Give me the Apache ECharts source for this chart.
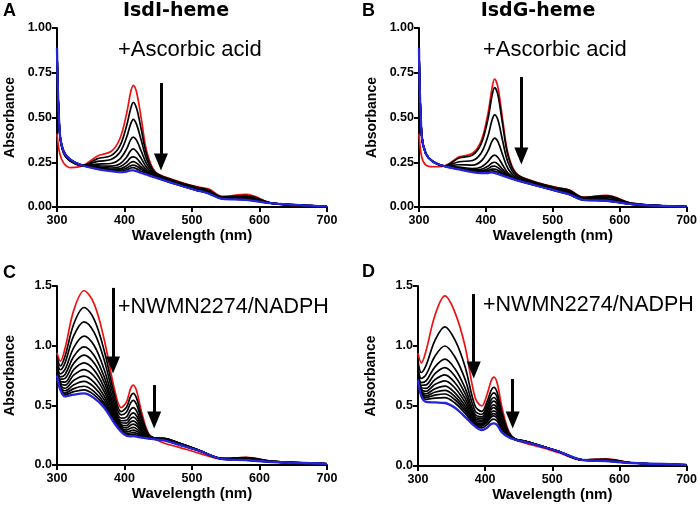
<!DOCTYPE html>
<html>
<head>
<meta charset="utf-8">
<script src="https://cdn.jsdelivr.net/npm/echarts@6/dist/echarts.min.js"></script>
<style>
  html, body { margin: 0; padding: 0; background: #fff; }
  #main { width: 700px; height: 510px; }
</style>
</head>
<body>
<div id="main"></div>
<script>
// wavelength grids (nm)
var wlAB = [300,304,310,320,338,360,380,393,403,409,413,418,425,433,445,470,505,525,545,580,620,700];
var wlCD = [300,305,312,325,340,355,370,385,395,403,409,413,418,425,435,445,460,480,510,545,580,620,700];

// A: IsdI-heme + ascorbic acid
var aRed  = [0.41,0.30,0.245,0.22,0.23,0.285,0.31,0.38,0.52,0.64,0.68,0.64,0.49,0.31,0.20,0.155,0.115,0.10,0.06,0.07,0.02,0.0];
var aBlue = [0.89,0.42,0.31,0.265,0.232,0.212,0.20,0.195,0.198,0.205,0.205,0.20,0.19,0.18,0.165,0.135,0.095,0.075,0.045,0.04,0.02,0.003];
var aBlack = [
  [0.87,0.41,0.30,0.255,0.232,0.27,0.287,0.34,0.452,0.548,0.585,0.55,0.43,0.29,0.195,0.152,0.112,0.094,0.056,0.063,0.02,0.001],
  [0.88,0.41,0.30,0.257,0.232,0.255,0.265,0.304,0.388,0.462,0.49,0.46,0.37,0.265,0.19,0.148,0.108,0.09,0.054,0.058,0.02,0.002],
  [0.88,0.415,0.305,0.258,0.232,0.24,0.243,0.268,0.323,0.375,0.39,0.372,0.31,0.24,0.185,0.145,0.104,0.085,0.051,0.052,0.02,0.002],
  [0.885,0.415,0.305,0.26,0.232,0.23,0.228,0.24,0.278,0.314,0.325,0.31,0.27,0.22,0.178,0.14,0.10,0.081,0.049,0.048,0.02,0.002],
  [0.885,0.42,0.308,0.262,0.232,0.224,0.218,0.225,0.25,0.275,0.28,0.272,0.24,0.205,0.174,0.138,0.098,0.079,0.048,0.045,0.02,0.003],
  [0.89,0.42,0.308,0.263,0.232,0.22,0.211,0.213,0.23,0.248,0.253,0.245,0.222,0.196,0.17,0.137,0.097,0.078,0.047,0.043,0.02,0.003],
  [0.89,0.42,0.31,0.264,0.232,0.217,0.207,0.206,0.217,0.231,0.234,0.228,0.21,0.19,0.168,0.136,0.096,0.077,0.046,0.042,0.02,0.003],
  [0.89,0.42,0.31,0.265,0.232,0.214,0.203,0.20,0.207,0.218,0.22,0.213,0.199,0.185,0.166,0.135,0.096,0.076,0.046,0.041,0.02,0.003]
];

// B: IsdG-heme + ascorbic acid
var bRed  = [0.41,0.28,0.235,0.225,0.23,0.28,0.30,0.37,0.52,0.66,0.715,0.67,0.49,0.30,0.19,0.145,0.11,0.095,0.055,0.065,0.02,0.0];
var bBlue = [0.89,0.40,0.30,0.255,0.228,0.21,0.195,0.19,0.19,0.193,0.19,0.185,0.175,0.165,0.15,0.125,0.09,0.07,0.04,0.035,0.015,0.002];
var bBlack = [
  [0.87,0.40,0.30,0.257,0.23,0.274,0.29,0.354,0.49,0.618,0.667,0.626,0.462,0.288,0.186,0.143,0.108,0.093,0.054,0.062,0.02,0.001],
  [0.88,0.40,0.30,0.257,0.229,0.253,0.26,0.302,0.395,0.483,0.515,0.486,0.37,0.25,0.175,0.137,0.102,0.085,0.05,0.054,0.018,0.001],
  [0.885,0.40,0.30,0.256,0.229,0.236,0.234,0.257,0.312,0.366,0.385,0.365,0.292,0.215,0.165,0.132,0.097,0.079,0.046,0.046,0.017,0.002],
  [0.885,0.40,0.30,0.256,0.228,0.223,0.215,0.224,0.253,0.282,0.29,0.277,0.235,0.19,0.158,0.129,0.094,0.075,0.043,0.041,0.016,0.002],
  [0.89,0.40,0.30,0.255,0.228,0.218,0.207,0.21,0.228,0.246,0.25,0.24,0.21,0.18,0.155,0.127,0.092,0.073,0.042,0.038,0.016,0.002],
  [0.89,0.40,0.30,0.255,0.228,0.215,0.203,0.203,0.214,0.227,0.228,0.22,0.198,0.175,0.153,0.126,0.091,0.072,0.041,0.037,0.015,0.002],
  [0.89,0.40,0.30,0.255,0.228,0.213,0.199,0.198,0.204,0.212,0.212,0.205,0.188,0.171,0.152,0.126,0.091,0.071,0.041,0.036,0.015,0.002],
  [0.89,0.40,0.30,0.255,0.228,0.211,0.197,0.194,0.197,0.202,0.20,0.195,0.182,0.168,0.151,0.125,0.09,0.07,0.04,0.035,0.015,0.002]
];

// C: IsdI-heme + NWMN2274/NADPH
var cRed  = [0.94,0.87,0.98,1.30,1.46,1.35,1.05,0.64,0.48,0.53,0.64,0.67,0.62,0.45,0.27,0.22,0.18,0.15,0.10,0.05,0.065,0.03,0.01];
var cBlue = [0.75,0.63,0.575,0.59,0.60,0.56,0.48,0.35,0.28,0.245,0.24,0.243,0.238,0.23,0.222,0.215,0.205,0.17,0.12,0.05,0.04,0.025,0.01];
var cBlack = [
  [0.909,0.83,0.914,1.184,1.32,1.221,0.957,0.593,0.447,0.484,0.575,0.60,0.558,0.414,0.262,0.225,0.222,0.185,0.125,0.055,0.062,0.03,0.01],
  [0.883,0.798,0.858,1.086,1.20,1.111,0.878,0.552,0.42,0.444,0.519,0.541,0.505,0.384,0.256,0.225,0.222,0.185,0.125,0.054,0.058,0.03,0.01],
  [0.856,0.764,0.801,0.986,1.08,1.001,0.798,0.512,0.392,0.404,0.463,0.481,0.451,0.353,0.249,0.224,0.221,0.184,0.124,0.054,0.055,0.029,0.01],
  [0.836,0.739,0.758,0.912,0.99,0.918,0.738,0.481,0.371,0.374,0.421,0.436,0.411,0.33,0.244,0.223,0.221,0.184,0.124,0.053,0.052,0.028,0.01],
  [0.821,0.719,0.726,0.854,0.92,0.854,0.692,0.458,0.354,0.351,0.389,0.402,0.38,0.312,0.24,0.222,0.22,0.183,0.123,0.053,0.05,0.028,0.01],
  [0.806,0.701,0.695,0.801,0.855,0.795,0.649,0.436,0.339,0.33,0.359,0.37,0.351,0.295,0.236,0.221,0.219,0.182,0.123,0.052,0.048,0.027,0.01],
  [0.794,0.686,0.669,0.755,0.80,0.744,0.613,0.418,0.327,0.311,0.333,0.342,0.327,0.281,0.233,0.22,0.218,0.181,0.122,0.052,0.046,0.027,0.01],
  [0.782,0.671,0.643,0.71,0.745,0.693,0.576,0.399,0.314,0.293,0.308,0.315,0.303,0.267,0.23,0.219,0.216,0.18,0.122,0.051,0.045,0.026,0.01],
  [0.772,0.658,0.622,0.672,0.70,0.652,0.546,0.384,0.303,0.278,0.286,0.293,0.282,0.256,0.228,0.218,0.214,0.178,0.122,0.051,0.043,0.026,0.01],
  [0.763,0.647,0.603,0.64,0.66,0.615,0.52,0.37,0.294,0.265,0.268,0.273,0.265,0.245,0.225,0.217,0.21,0.175,0.121,0.051,0.042,0.025,0.01],
  [0.757,0.638,0.589,0.615,0.63,0.588,0.50,0.36,0.287,0.255,0.254,0.258,0.251,0.238,0.224,0.216,0.208,0.172,0.12,0.05,0.041,0.025,0.01]
];

// D: IsdG-heme + NWMN2274/NADPH
var dRed  = [0.94,0.86,0.96,1.25,1.417,1.28,1.0,0.57,0.50,0.60,0.71,0.74,0.69,0.49,0.29,0.22,0.19,0.16,0.11,0.05,0.06,0.025,0.01];
var dBlue = [0.72,0.58,0.535,0.53,0.525,0.485,0.41,0.33,0.30,0.32,0.35,0.355,0.34,0.28,0.24,0.22,0.20,0.17,0.12,0.05,0.04,0.025,0.01];
var dBlack = [
  [0.877,0.779,0.838,1.043,1.16,1.051,0.83,0.50,0.455,0.538,0.631,0.655,0.613,0.444,0.28,0.225,0.205,0.172,0.12,0.052,0.055,0.025,0.01],
  [0.837,0.729,0.761,0.913,1.0,0.908,0.724,0.46,0.43,0.505,0.588,0.609,0.571,0.419,0.273,0.224,0.206,0.173,0.12,0.052,0.053,0.025,0.01],
  [0.81,0.695,0.709,0.824,0.89,0.81,0.651,0.43,0.41,0.477,0.552,0.571,0.536,0.398,0.268,0.223,0.206,0.173,0.12,0.051,0.051,0.025,0.01],
  [0.793,0.673,0.676,0.768,0.82,0.748,0.605,0.41,0.395,0.454,0.523,0.54,0.508,0.381,0.264,0.222,0.206,0.173,0.12,0.051,0.049,0.025,0.01],
  [0.778,0.654,0.647,0.719,0.76,0.694,0.565,0.395,0.38,0.432,0.494,0.509,0.48,0.364,0.26,0.221,0.205,0.172,0.12,0.051,0.047,0.025,0.01],
  [0.766,0.638,0.623,0.679,0.71,0.65,0.532,0.38,0.368,0.415,0.472,0.486,0.459,0.351,0.257,0.221,0.205,0.172,0.12,0.051,0.046,0.025,0.01],
  [0.755,0.624,0.602,0.643,0.665,0.61,0.503,0.37,0.354,0.396,0.447,0.459,0.435,0.337,0.254,0.22,0.204,0.171,0.12,0.05,0.045,0.025,0.01],
  [0.746,0.613,0.585,0.615,0.63,0.579,0.48,0.36,0.342,0.379,0.426,0.436,0.414,0.324,0.25,0.22,0.203,0.171,0.12,0.05,0.044,0.025,0.01],
  [0.738,0.604,0.571,0.59,0.60,0.552,0.46,0.35,0.332,0.365,0.408,0.417,0.396,0.314,0.248,0.22,0.202,0.171,0.12,0.05,0.043,0.025,0.01],
  [0.731,0.594,0.556,0.566,0.57,0.525,0.44,0.34,0.318,0.345,0.382,0.39,0.372,0.299,0.245,0.22,0.201,0.17,0.12,0.05,0.042,0.025,0.01]
];

// arrows: [wavelength, from absorbance, to absorbance]
var arrowsA = [[454, 0.693, 0.251]];
var arrowsB = [[453, 0.726, 0.285]];
var arrowsC = [[383, 1.484, 0.838], [444, 0.67, 0.377]];
var arrowsD = [[383, 1.433, 0.80], [441, 0.725, 0.383]];

var yMaxAB = 1, yStepAB = 0.25;
var yMaxCD = 1.5, yStepCD = 0.5;

var FONT = 'Liberation Sans';
var RED = '#ee1111', BLUE = '#2424d8';

var panels = [
  { wl: wlAB, red: aRed, blue: aBlue, black: aBlack, arrows: arrowsA, max: yMaxAB, step: yStepAB, dec: 2,
    grid: { left: 57, top: 28, width: 270, height: 179 } },
  { wl: wlAB, red: bRed, blue: bBlue, black: bBlack, arrows: arrowsB, max: yMaxAB, step: yStepAB, dec: 2,
    grid: { left: 419, top: 28, width: 269, height: 179 } },
  { wl: wlCD, red: cRed, blue: cBlue, black: cBlack, arrows: arrowsC, max: yMaxCD, step: yStepCD, dec: 1,
    grid: { left: 57, top: 286, width: 270, height: 179 } },
  { wl: wlCD, red: dRed, blue: dBlue, black: dBlack, arrows: arrowsD, max: yMaxCD, step: yStepCD, dec: 1,
    grid: { left: 418, top: 286, width: 269, height: 180 } }
];

function pairs(wl, vals) {
  return wl.map(function (w, i) { return [w, vals[i]]; });
}

var grids = [], xAxes = [], yAxes = [], series = [];
var axisLine = { lineStyle: { color: '#000', width: 2 } };
var axisTick = { length: 5, lineStyle: { color: '#000', width: 2 } };

panels.forEach(function (p, k) {
  grids.push(p.grid);
  xAxes.push({
    gridIndex: k, type: 'value', min: 300, max: 700, interval: 100,
    name: 'Wavelength (nm)', nameLocation: 'middle', nameGap: 20,
    nameTextStyle: { fontFamily: FONT, fontWeight: 'bold', fontSize: 15, color: '#000' },
    axisLine: axisLine, axisTick: axisTick, splitLine: { show: false },
    axisLabel: { fontFamily: FONT, fontWeight: 'bold', fontSize: 12.5, color: '#000', margin: 7 }
  });
  yAxes.push({
    gridIndex: k, type: 'value', min: 0, max: p.max, interval: p.step,
    name: 'Absorbance', nameLocation: 'middle', nameGap: 40,
    nameTextStyle: { fontFamily: FONT, fontWeight: 'bold', fontSize: 14, color: '#000' },
    axisLine: { show: true, lineStyle: { color: '#000', width: 2 } },
    axisTick: { show: true, length: 5, lineStyle: { color: '#000', width: 2 } },
    splitLine: { show: false },
    axisLabel: { fontFamily: FONT, fontWeight: 'bold', fontSize: 12.5, color: '#000', margin: 5,
      formatter: function (v) { return v.toFixed(p.dec); } }
  });

  var base = { type: 'line', xAxisIndex: k, yAxisIndex: k, symbol: 'none', smooth: 0.35,
    silent: true, animation: false };
  series.push(Object.assign({}, base, { data: pairs(p.wl, p.red),
    lineStyle: { color: RED, width: 1.7 } }));
  p.black.forEach(function (b) {
    series.push(Object.assign({}, base, { data: pairs(p.wl, b),
      lineStyle: { color: '#000', width: 1.7 } }));
  });
  series.push(Object.assign({}, base, { data: pairs(p.wl, p.blue),
    lineStyle: { color: BLUE, width: 2.3 },
    markLine: {
      silent: true, animation: false,
      symbol: ['none', 'triangle'], symbolSize: [14, 17],
      label: { show: false },
      lineStyle: { color: '#000', width: 3, type: 'solid' },
      data: p.arrows.map(function (a) {
        return [{ coord: [a[0], a[1]] }, { coord: [a[0], a[2]] }];
      })
    }
  }));
});

var txt = function (text, left, top, size, bold, family, align) {
  return { text: text, left: left, top: top, textAlign: align || 'left', padding: 0,
    textStyle: { fontFamily: family || FONT, fontSize: size, fontWeight: bold ? 'bold' : 'normal', color: '#000' } };
};

var option = {
  backgroundColor: '#fff',
  animation: false,
  title: [
    txt('A', 3, 2, 18, true),
    txt('B', 362, 2, 18, true),
    txt('C', 3, 264, 18, true),
    txt('D', 362, 263, 18, true),
    txt('IsdI-heme', 176, 2, 19, true, 'DejaVu Sans', 'center'),
    txt('IsdG-heme', 538, 2, 19, true, 'DejaVu Sans', 'center'),
    txt('+Ascorbic acid', 118, 39, 22, false),
    txt('+Ascorbic acid', 483, 39, 22, false),
    txt('+NWMN2274/NADPH', 118, 296, 21.5, false),
    txt('+NWMN2274/NADPH', 483, 294, 21.5, false)
  ],
  grid: grids,
  xAxis: xAxes,
  yAxis: yAxes,
  series: series
};

var chart = echarts.init(document.getElementById('main'));
chart.setOption(option);
</script>
</body>
</html>
